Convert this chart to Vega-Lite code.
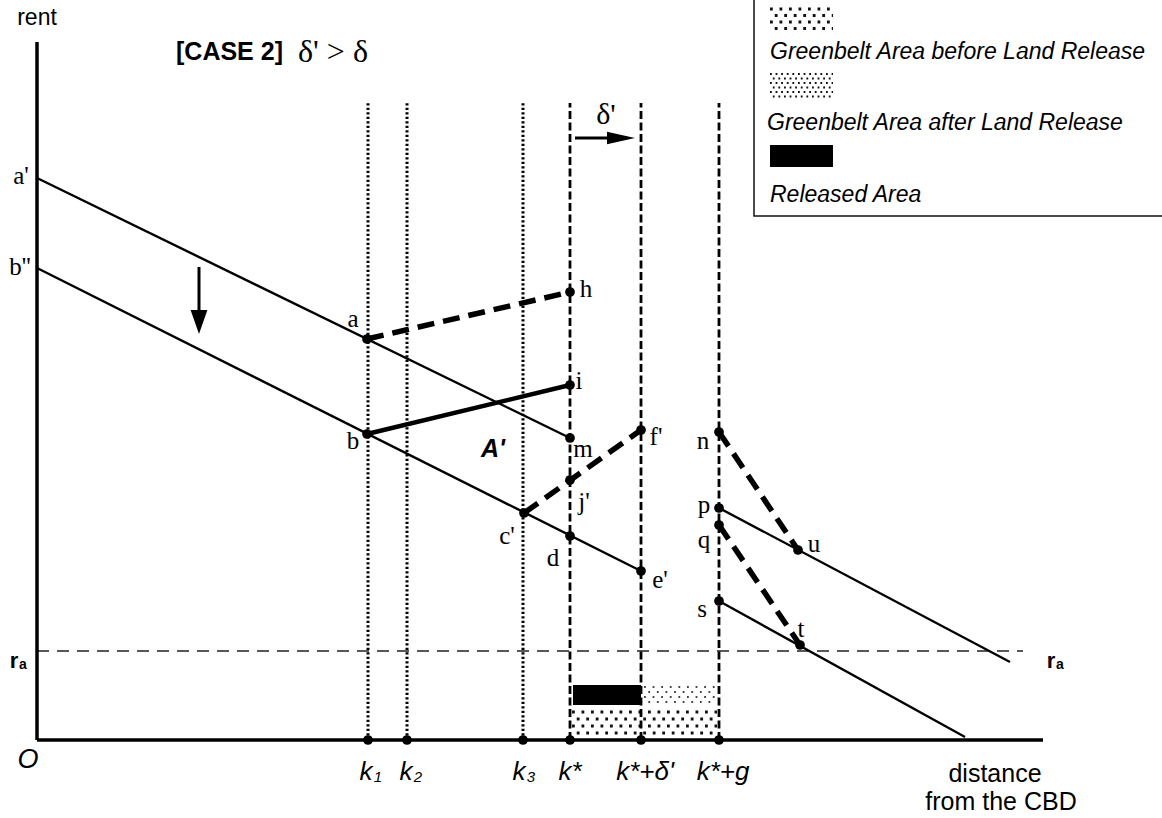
{
  "$schema": "https://vega.github.io/schema/vega-lite/v6.json",
  "width": 1162,
  "height": 818,
  "autosize": {"type": "none"},
  "padding": 0,
  "background": "white",
  "config": {"view": {"stroke": null}, "mark": {"color": "#000"}},
  "datasets": {
    "seg": [
      {"k": "axis", "x": 0, "y": 698, "x2": 0, "y2": 0},
      {"k": "axis", "x": 0, "y": 0, "x2": 1006, "y2": 0},
      {"k": "thin", "x": 0, "y": 562, "x2": 533, "y2": 302},
      {"k": "thin", "x": 0, "y": 472, "x2": 604, "y2": 169},
      {"k": "thin", "x": 682, "y": 232, "x2": 973, "y2": 78},
      {"k": "thin", "x": 682, "y": 139, "x2": 928, "y2": 3},
      {"k": "thick", "x": 330, "y": 306, "x2": 533, "y2": 355},
      {"k": "tdash", "x": 330, "y": 401, "x2": 533, "y2": 448},
      {"k": "tdash", "x": 487, "y": 227, "x2": 604, "y2": 310},
      {"k": "tdash", "x": 682, "y": 308, "x2": 761, "y2": 190},
      {"k": "tdash", "x": 682, "y": 215, "x2": 763, "y2": 95},
      {"k": "dotv", "x": 331, "y": 0, "x2": 331, "y2": 637},
      {"k": "dotv", "x": 370, "y": 0, "x2": 370, "y2": 637},
      {"k": "dotv", "x": 486, "y": 0, "x2": 486, "y2": 637},
      {"k": "dashv", "x": 533, "y": 0, "x2": 533, "y2": 637},
      {"k": "dashv", "x": 604, "y": 0, "x2": 604, "y2": 637},
      {"k": "dashv", "x": 682, "y": 0, "x2": 682, "y2": 637},
      {"k": "ra", "x": 0, "y": 89, "x2": 986, "y2": 89},
      {"k": "arr", "x": 538, "y": 602, "x2": 575, "y2": 602},
      {"k": "arr", "x": 162, "y": 473, "x2": 162, "y2": 428}
    ],
    "dots": [
      {"k": "coarseA", "x": 535, "x2": 680, "y": 28},
      {"k": "coarseB", "x": 535, "x2": 680, "y": 21},
      {"k": "coarseA", "x": 535, "x2": 680, "y": 14},
      {"k": "coarseB", "x": 535, "x2": 680, "y": 7},
      {"k": "coarseA", "x": 733, "x2": 796, "y": 731},
      {"k": "coarseB", "x": 733, "x2": 796, "y": 724.5},
      {"k": "coarseA", "x": 733, "x2": 796, "y": 718},
      {"k": "coarseB", "x": 733, "x2": 796, "y": 711.5},
      {"k": "fineA", "x": 733, "x2": 796, "y": 666},
      {"k": "fineB", "x": 733, "x2": 796, "y": 661.5},
      {"k": "fineA", "x": 733, "x2": 796, "y": 657},
      {"k": "fineB", "x": 733, "x2": 796, "y": 652.5},
      {"k": "fineA", "x": 733, "x2": 796, "y": 648},
      {"k": "fineB", "x": 733, "x2": 796, "y": 643.5},
      {"k": "lightA", "x": 607, "x2": 679, "y": 53},
      {"k": "lightB", "x": 607, "x2": 679, "y": 48},
      {"k": "lightA", "x": 607, "x2": 679, "y": 43},
      {"k": "lightB", "x": 607, "x2": 679, "y": 38}
    ],
    "rects": [
      {"k": "box", "x": 717, "x2": 1140, "y": 524, "y2": 750},
      {"k": "black", "x": 536, "x2": 604, "y": 35, "y2": 55},
      {"k": "black", "x": 733, "x2": 796, "y": 573, "y2": 595}
    ],
    "pts": [
      {"n": "a", "x": 330, "y": 401}, {"n": "b", "x": 330, "y": 306},
      {"n": "h", "x": 533, "y": 448}, {"n": "i", "x": 533, "y": 355},
      {"n": "m", "x": 533, "y": 302}, {"n": "j'", "x": 533, "y": 260},
      {"n": "d", "x": 533, "y": 204}, {"n": "c'", "x": 487, "y": 227},
      {"n": "f'", "x": 604, "y": 310}, {"n": "e'", "x": 604, "y": 169},
      {"n": "n", "x": 682, "y": 308}, {"n": "p", "x": 682, "y": 232},
      {"n": "q", "x": 682, "y": 215}, {"n": "s", "x": 682, "y": 139},
      {"n": "u", "x": 761, "y": 190}, {"n": "t", "x": 763, "y": 95},
      {"n": "k1", "x": 331, "y": 0}, {"n": "k2", "x": 370, "y": 0},
      {"n": "k3", "x": 486, "y": 0}, {"n": "k*", "x": 533, "y": 0},
      {"n": "k*+d", "x": 604, "y": 0}, {"n": "k*+g", "x": 682, "y": 0}
    ],
    "heads": [
      {"k": "right", "x": 584, "y": 602},
      {"k": "down", "x": 162, "y": 418}
    ],
    "labels": [
      {"s": "pt", "t": "a'", "x": -16, "y": 564},
      {"s": "pt", "t": "b''", "x": -17, "y": 473},
      {"s": "pt", "t": "a", "x": 316, "y": 421},
      {"s": "pt", "t": "b", "x": 316, "y": 299},
      {"s": "pt", "t": "h", "x": 549, "y": 451},
      {"s": "pt", "t": "i", "x": 542, "y": 359},
      {"s": "pt", "t": "m", "x": 546, "y": 291},
      {"s": "pt", "t": "f'", "x": 619, "y": 303},
      {"s": "pt", "t": "j'", "x": 547, "y": 238},
      {"s": "pt", "t": "c'", "x": 470, "y": 204},
      {"s": "pt", "t": "d", "x": 516, "y": 182},
      {"s": "pt", "t": "e'", "x": 623, "y": 160},
      {"s": "pt", "t": "n", "x": 666, "y": 299},
      {"s": "pt", "t": "p", "x": 667, "y": 235},
      {"s": "pt", "t": "q", "x": 667, "y": 200},
      {"s": "pt", "t": "s", "x": 665, "y": 131},
      {"s": "pt", "t": "u", "x": 777, "y": 196},
      {"s": "pt", "t": "t", "x": 764, "y": 111},
      {"s": "big", "t": "δ'", "x": 569, "y": 625},
      {"s": "title", "t": "δ' > δ", "x": 261, "y": 688},
      {"s": "bold", "t": "[CASE 2]", "x": 139, "y": 688},
      {"s": "sans", "t": "rent", "x": 0, "y": 722},
      {"s": "sansBig", "t": "distance", "x": 958, "y": -34},
      {"s": "sansBig", "t": "from the CBD", "x": 964, "y": -62},
      {"s": "ra", "t": "r", "x": -23, "y": 79},
      {"s": "raSub", "t": "a", "x": -14, "y": 75},
      {"s": "ra", "t": "r", "x": 1014, "y": 79},
      {"s": "raSub", "t": "a", "x": 1023, "y": 75},
      {"s": "kItal", "t": "k", "x": 329, "y": -32},
      {"s": "kSub", "t": "1", "x": 341, "y": -37},
      {"s": "kItal", "t": "k", "x": 369, "y": -32},
      {"s": "kSub", "t": "2", "x": 381, "y": -37},
      {"s": "kItal", "t": "k", "x": 482, "y": -32},
      {"s": "kSub", "t": "3", "x": 494, "y": -37},
      {"s": "kItal", "t": "k*", "x": 533, "y": -32},
      {"s": "kItal", "t": "k*+δ'", "x": 608, "y": -32},
      {"s": "kItal", "t": "k*+g", "x": 686, "y": -32},
      {"s": "O", "t": "O", "x": -9, "y": -20},
      {"s": "legend", "t": "Greenbelt Area before Land Release", "x": 733, "y": 681},
      {"s": "legend", "t": "Greenbelt Area after Land Release", "x": 730, "y": 610},
      {"s": "legend", "t": "Released Area", "x": 733, "y": 538},
      {"s": "Aprime", "t": "A'", "x": 456, "y": 291}
    ]
  },
  "encoding": {
    "x": {"field": "x", "type": "quantitative", "axis": null, "scale": {"domain": [-37, 1125], "nice": false, "zero": false}},
    "y": {"field": "y", "type": "quantitative", "axis": null, "scale": {"domain": [-78, 740], "nice": false, "zero": false}}
  },
  "layer": [
    {"data": {"name": "rects"}, "transform": [{"filter": "datum.k === 'box'"}],
     "mark": {"type": "rect", "fill": "white", "stroke": "#111", "strokeWidth": 1.5},
     "encoding": {"x2": {"field": "x2"}, "y2": {"field": "y2"}}},
    {"data": {"name": "dots"}, "transform": [{"filter": "datum.k === 'coarseA'"}],
     "mark": {"type": "rule", "stroke": "#111", "strokeWidth": 2.8, "strokeDash": [2.8, 6.7], "strokeDashOffset": 0},
     "encoding": {"x2": {"field": "x2"}}},
    {"data": {"name": "dots"}, "transform": [{"filter": "datum.k === 'coarseB'"}],
     "mark": {"type": "rule", "stroke": "#111", "strokeWidth": 2.8, "strokeDash": [2.8, 6.7], "strokeDashOffset": 4.75},
     "encoding": {"x2": {"field": "x2"}}},
    {"data": {"name": "dots"}, "transform": [{"filter": "datum.k === 'fineA'"}],
     "mark": {"type": "rule", "stroke": "#111", "strokeWidth": 1.8, "strokeDash": [1.8, 3.8], "strokeDashOffset": 0},
     "encoding": {"x2": {"field": "x2"}}},
    {"data": {"name": "dots"}, "transform": [{"filter": "datum.k === 'fineB'"}],
     "mark": {"type": "rule", "stroke": "#111", "strokeWidth": 1.8, "strokeDash": [1.8, 3.8], "strokeDashOffset": 2.8},
     "encoding": {"x2": {"field": "x2"}}},
    {"data": {"name": "dots"}, "transform": [{"filter": "datum.k === 'lightA'"}],
     "mark": {"type": "rule", "stroke": "#444", "strokeWidth": 1.8, "strokeDash": [1.8, 6.8], "strokeDashOffset": 0},
     "encoding": {"x2": {"field": "x2"}}},
    {"data": {"name": "dots"}, "transform": [{"filter": "datum.k === 'lightB'"}],
     "mark": {"type": "rule", "stroke": "#444", "strokeWidth": 1.8, "strokeDash": [1.8, 6.8], "strokeDashOffset": 4.3},
     "encoding": {"x2": {"field": "x2"}}},
    {"data": {"name": "rects"}, "transform": [{"filter": "datum.k === 'black'"}],
     "mark": {"type": "rect", "fill": "#000"},
     "encoding": {"x2": {"field": "x2"}, "y2": {"field": "y2"}}},
    {"data": {"name": "seg"}, "transform": [{"filter": "datum.k === 'ra'"}],
     "mark": {"type": "rule", "stroke": "#222", "strokeWidth": 1.3, "strokeDash": [12, 8]},
     "encoding": {"x2": {"field": "x2"}, "y2": {"field": "y2"}}},
    {"data": {"name": "seg"}, "transform": [{"filter": "datum.k === 'dotv'"}],
     "mark": {"type": "rule", "stroke": "#000", "strokeWidth": 3, "strokeDash": [2.2, 2.3]},
     "encoding": {"x2": {"field": "x2"}, "y2": {"field": "y2"}}},
    {"data": {"name": "seg"}, "transform": [{"filter": "datum.k === 'dashv'"}],
     "mark": {"type": "rule", "stroke": "#000", "strokeWidth": 2.8, "strokeDash": [8, 3.5]},
     "encoding": {"x2": {"field": "x2"}, "y2": {"field": "y2"}}},
    {"data": {"name": "seg"}, "transform": [{"filter": "datum.k === 'thin'"}],
     "mark": {"type": "rule", "stroke": "#000", "strokeWidth": 2.4},
     "encoding": {"x2": {"field": "x2"}, "y2": {"field": "y2"}}},
    {"data": {"name": "seg"}, "transform": [{"filter": "datum.k === 'thick'"}],
     "mark": {"type": "rule", "stroke": "#000", "strokeWidth": 4.5},
     "encoding": {"x2": {"field": "x2"}, "y2": {"field": "y2"}}},
    {"data": {"name": "seg"}, "transform": [{"filter": "datum.k === 'tdash'"}],
     "mark": {"type": "rule", "stroke": "#000", "strokeWidth": 5.5, "strokeDash": [17, 9]},
     "encoding": {"x2": {"field": "x2"}, "y2": {"field": "y2"}}},
    {"data": {"name": "seg"}, "transform": [{"filter": "datum.k === 'axis'"}],
     "mark": {"type": "rule", "stroke": "#000", "strokeWidth": 3.5},
     "encoding": {"x2": {"field": "x2"}, "y2": {"field": "y2"}}},
    {"data": {"name": "seg"}, "transform": [{"filter": "datum.k === 'arr'"}],
     "mark": {"type": "rule", "stroke": "#000", "strokeWidth": 3},
     "encoding": {"x2": {"field": "x2"}, "y2": {"field": "y2"}}},
    {"data": {"name": "heads"}, "transform": [{"filter": "datum.k === 'right'"}],
     "mark": {"type": "point", "filled": true, "fill": "#000", "opacity": 1, "size": 784, "shape": "M-1,-0.45L1,0L-1,0.45Z"}},
    {"data": {"name": "heads"}, "transform": [{"filter": "datum.k === 'down'"}],
     "mark": {"type": "point", "filled": true, "fill": "#000", "opacity": 1, "size": 576, "shape": "M-0.7,-1L0.7,-1L0,1Z"}},
    {"data": {"name": "pts"},
     "mark": {"type": "point", "filled": true, "fill": "#000", "opacity": 1, "size": 95, "shape": "circle"}},
    {"data": {"name": "labels"}, "transform": [{"filter": "datum.s === 'pt'"}],
     "mark": {"type": "text", "font": "Liberation Serif", "fontSize": 25, "align": "center", "baseline": "middle", "fill": "#000"},
     "encoding": {"text": {"field": "t"}}},
    {"data": {"name": "labels"}, "transform": [{"filter": "datum.s === 'big'"}],
     "mark": {"type": "text", "font": "Liberation Serif", "fontSize": 30, "align": "center", "baseline": "middle", "fill": "#000"},
     "encoding": {"text": {"field": "t"}}},
    {"data": {"name": "labels"}, "transform": [{"filter": "datum.s === 'title'"}],
     "mark": {"type": "text", "font": "Liberation Serif", "fontSize": 32, "align": "left", "baseline": "middle", "fill": "#000"},
     "encoding": {"text": {"field": "t"}}},
    {"data": {"name": "labels"}, "transform": [{"filter": "datum.s === 'bold'"}],
     "mark": {"type": "text", "font": "Liberation Sans", "fontWeight": "bold", "fontSize": 25, "align": "left", "baseline": "middle", "fill": "#000"},
     "encoding": {"text": {"field": "t"}}},
    {"data": {"name": "labels"}, "transform": [{"filter": "datum.s === 'sans'"}],
     "mark": {"type": "text", "font": "Liberation Sans", "fontSize": 23, "align": "center", "baseline": "middle", "fill": "#000"},
     "encoding": {"text": {"field": "t"}}},
    {"data": {"name": "labels"}, "transform": [{"filter": "datum.s === 'sansBig'"}],
     "mark": {"type": "text", "font": "Liberation Sans", "fontSize": 25, "align": "center", "baseline": "middle", "fill": "#000"},
     "encoding": {"text": {"field": "t"}}},
    {"data": {"name": "labels"}, "transform": [{"filter": "datum.s === 'ra'"}],
     "mark": {"type": "text", "font": "Liberation Sans", "fontWeight": "bold", "fontSize": 22, "align": "center", "baseline": "middle", "fill": "#000"},
     "encoding": {"text": {"field": "t"}}},
    {"data": {"name": "labels"}, "transform": [{"filter": "datum.s === 'raSub'"}],
     "mark": {"type": "text", "font": "Liberation Sans", "fontWeight": "bold", "fontSize": 14, "align": "center", "baseline": "middle", "fill": "#000"},
     "encoding": {"text": {"field": "t"}}},
    {"data": {"name": "labels"}, "transform": [{"filter": "datum.s === 'kItal'"}],
     "mark": {"type": "text", "font": "Liberation Sans", "fontStyle": "italic", "fontSize": 26, "align": "center", "baseline": "middle", "fill": "#000"},
     "encoding": {"text": {"field": "t"}}},
    {"data": {"name": "labels"}, "transform": [{"filter": "datum.s === 'kSub'"}],
     "mark": {"type": "text", "font": "Liberation Sans", "fontStyle": "italic", "fontSize": 15, "align": "center", "baseline": "middle", "fill": "#000"},
     "encoding": {"text": {"field": "t"}}},
    {"data": {"name": "labels"}, "transform": [{"filter": "datum.s === 'O'"}],
     "mark": {"type": "text", "font": "Liberation Sans", "fontStyle": "italic", "fontSize": 27, "align": "center", "baseline": "middle", "fill": "#000"},
     "encoding": {"text": {"field": "t"}}},
    {"data": {"name": "labels"}, "transform": [{"filter": "datum.s === 'legend'"}],
     "mark": {"type": "text", "font": "Liberation Sans", "fontStyle": "italic", "fontSize": 23, "align": "left", "baseline": "alphabetic", "fill": "#000"},
     "encoding": {"text": {"field": "t"}}},
    {"data": {"name": "labels"}, "transform": [{"filter": "datum.s === 'Aprime'"}],
     "mark": {"type": "text", "font": "Liberation Sans", "fontStyle": "italic", "fontWeight": "bold", "fontSize": 25, "align": "center", "baseline": "middle", "fill": "#000"},
     "encoding": {"text": {"field": "t"}}}
  ]
}
